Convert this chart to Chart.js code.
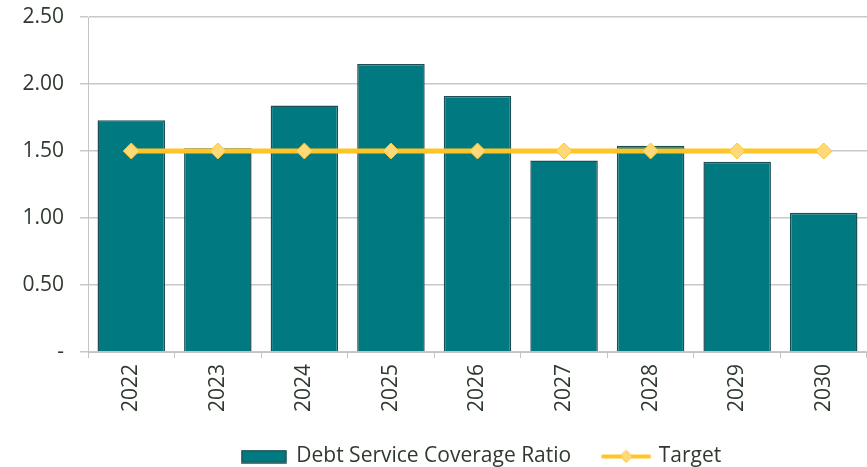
<!DOCTYPE html>
<html>
<head>
<meta charset="utf-8">
<script src="https://cdn.jsdelivr.net/npm/chart.js@4/dist/chart.umd.min.js"></script>
<style>
  html, body { margin: 0; padding: 0; background: #fff; overflow: hidden; }
  #wrap { width: 867px; height: 467px; }
  canvas { display: block; }
</style>
</head>
<body>
<div id="wrap"><canvas id="myChart"></canvas></div>
<script>
// data
const years = ['2022', '2023', '2024', '2025', '2026', '2027', '2028', '2029', '2030'];
const dscr = [1.73, 1.52, 1.84, 2.15, 1.91, 1.43, 1.54, 1.42, 1.04];
const target = [1.5, 1.5, 1.5, 1.5, 1.5, 1.5, 1.5, 1.5, 1.5];
const yTicks = [0, 0.5, 1.0, 1.5, 2.0, 2.5];

const teal = '#007A80';
const tealEdge = '#1d4f54';
const gold = '#FFC425';
const goldLight = '#FFD977';
const fontFamily = '"Open Sans", Arial, sans-serif';

// little pictures for the legend
function barSwatch() {
    const c = document.createElement('canvas');
    c.width = 46; c.height = 14;
    const ctx = c.getContext('2d');
    ctx.fillStyle = teal;
    ctx.fillRect(1, 1, 44, 12);
    ctx.strokeStyle = tealEdge;
    ctx.lineWidth = 1.5;
    ctx.strokeRect(1, 1, 44, 12);
    return c;
}
function lineSwatch() {
    const c = document.createElement('canvas');
    c.width = 50; c.height = 16;
    const ctx = c.getContext('2d');
    ctx.strokeStyle = gold;
    ctx.lineWidth = 4;
    ctx.lineCap = 'round';
    ctx.beginPath(); ctx.moveTo(2, 8); ctx.lineTo(48, 8); ctx.stroke();
    ctx.beginPath();
    ctx.moveTo(25, 2); ctx.lineTo(31, 8); ctx.lineTo(25, 14); ctx.lineTo(19, 8); ctx.closePath();
    ctx.fillStyle = goldLight; ctx.fill();
    ctx.lineWidth = 1; ctx.stroke();
    return c;
}

// the legend in the picture sits a bit right of centre
const legendShift = {
    id: 'legendShift',
    afterLayout(chart) {
        chart.legend.left += 48;
        chart.legend.right += 48;
    }
};

const ctx = document.getElementById('myChart').getContext('2d');
new Chart(ctx, {
    type: 'bar',
    data: {
        labels: years,
        datasets: [
            {
                type: 'line',
                label: 'Target',
                data: target,
                borderColor: gold,
                borderWidth: 5,
                pointStyle: 'rectRot',
                pointRadius: 8,
                pointBackgroundColor: goldLight,
                pointBorderColor: gold,
                pointBorderWidth: 1,
                order: 0
            },
            {
                label: 'Debt Service Coverage Ratio',
                data: dscr,
                backgroundColor: teal,
                borderColor: tealEdge,
                borderWidth: 1.5,
                categoryPercentage: 1.0,
                barPercentage: 0.78,
                order: 1
            }
        ]
    },
    plugins: [legendShift],
    options: {
        responsive: true,
        maintainAspectRatio: false,
        animation: false,
        layout: { autoPadding: false, padding: { top: 17, right: 0, left: 0, bottom: -10 } },
        plugins: {
            tooltip: { enabled: false },
            legend: {
                position: 'bottom',
                labels: {
                    usePointStyle: true,
                    pointStyleWidth: 44,
                    padding: 33,
                    color: '#2f3a2f',
                    font: { family: fontFamily, size: 21 },
                    generateLabels: (chart) => [
                        { text: 'Debt Service Coverage Ratio', pointStyle: barSwatch(), datasetIndex: 1, lineWidth: 0, strokeStyle: 'transparent', fillStyle: teal, fontColor: '#2f3a2f' },
                        { text: 'Target', pointStyle: lineSwatch(), datasetIndex: 0, lineWidth: 0, strokeStyle: 'transparent', fillStyle: gold, fontColor: '#2f3a2f' }
                    ]
                }
            }
        },
        scales: {
            x: {
                offset: true,
                grid: { display: true, drawOnChartArea: false, offset: true, color: '#c4c4c4', tickLength: 6 },
                border: { color: '#c4c4c4' },
                ticks: {
                    minRotation: 90, maxRotation: 90,
                    color: '#2f3a2f',
                    padding: 6,
                    font: { family: fontFamily, size: 21 }
                },
                afterFit: (scale) => {
                    scale.height = 61;
                    scale.paddingLeft = 0;
                    scale.paddingRight = 0;
                }
            },
            y: {
                min: 0, max: 2.5,
                afterBuildTicks: (scale) => { scale.ticks = yTicks.map(v => ({ value: v })); },
                grid: { color: '#c8c8c8', tickLength: 8, lineWidth: 1.5 },
                border: { color: '#c4c4c4' },
                ticks: {
                    color: '#2f3a2f',
                    padding: 16,
                    font: { family: fontFamily, size: 21 },
                    callback: (v) => v === 0 ? '-' : v.toFixed(2)
                },
                afterFit: (scale) => {
                    scale.width = 88;
                    scale.paddingTop = 0;
                    scale.paddingBottom = 0;
                }
            }
        }
    }
});
</script>
</body>
</html>
